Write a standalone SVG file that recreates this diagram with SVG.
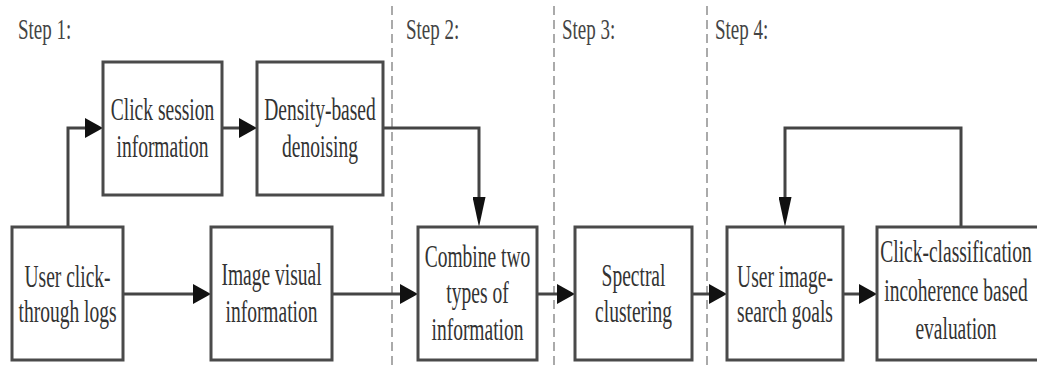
<svg xmlns="http://www.w3.org/2000/svg" width="1037" height="369" viewBox="0 0 1037 369">
<style>
.box{fill:#fff;stroke:#4a4a4a;stroke-width:3}
.t{font-family:'Liberation Serif','Times New Roman',serif;font-size:19.5px;fill:#333;text-anchor:middle}
.step{font-family:'Liberation Serif','Times New Roman',serif;font-size:19px;fill:#444}
.ln{fill:none;stroke:#444;stroke-width:3}
.dash{fill:none;stroke:#aaa;stroke-width:2;stroke-dasharray:9 5}
</style>
<defs>
<marker id="ah" viewBox="0 0 18 20" refX="8" refY="10" markerWidth="18" markerHeight="20" markerUnits="userSpaceOnUse" orient="auto">
<path d="M0,0 L18,10 L0,20 z" fill="#111"/>
</marker>
<marker id="av" viewBox="0 0 30 13" refX="15" refY="6.5" markerWidth="30" markerHeight="13" markerUnits="userSpaceOnUse" orient="auto">
<path d="M0,0 L30,6.5 L0,13 z" fill="#111"/>
</marker>
</defs>
<rect width="1037" height="369" fill="#fff"/>
<g id="separators">
<line class="dash" x1="392" y1="6" x2="392" y2="369"/>
<line class="dash" x1="554" y1="6" x2="554" y2="369"/>
<line class="dash" x1="707" y1="6" x2="707" y2="369"/>
</g>
<g id="steps">
<text class="step" transform="translate(18,39) scale(1,1.55)">Step 1:</text>
<text class="step" transform="translate(406,39) scale(1,1.55)">Step 2:</text>
<text class="step" transform="translate(562,39) scale(1,1.55)">Step 3:</text>
<text class="step" transform="translate(715,39) scale(1,1.55)">Step 4:</text>
</g>
<g id="connectors">
<path class="ln" d="M68,227 V128 H93" marker-end="url(#ah)"/>
<path class="ln" d="M222,128 H247" marker-end="url(#ah)"/>
<path class="ln" d="M383,128 H479 V212" marker-end="url(#av)"/>
<path class="ln" d="M123,294 H201" marker-end="url(#ah)"/>
<path class="ln" d="M332,294 H408" marker-end="url(#ah)"/>
<path class="ln" d="M537,294 H565" marker-end="url(#ah)"/>
<path class="ln" d="M692,294 H717" marker-end="url(#ah)"/>
<path class="ln" d="M843,294 H867" marker-end="url(#ah)"/>
<path class="ln" d="M961,227 V128 H785 V212" marker-end="url(#av)"/>
</g>
<g id="n1">
<rect class="box" x="12" y="227" width="111" height="133"/>
<text class="t" transform="translate(67.5,287) scale(1,1.65)">User click-</text>
<text class="t" transform="translate(67.5,322) scale(1,1.65)">through logs</text>
</g>
<g id="n2">
<rect class="box" x="103" y="62" width="119" height="133"/>
<text class="t" transform="translate(162.5,120) scale(1,1.65)">Click session</text>
<text class="t" transform="translate(162.5,157) scale(1,1.65)">information</text>
</g>
<g id="n3">
<rect class="box" x="257" y="62" width="126" height="133"/>
<text class="t" transform="translate(320,120) scale(1,1.65)">Density-based</text>
<text class="t" transform="translate(320,157) scale(1,1.65)">denoising</text>
</g>
<g id="n4">
<rect class="box" x="211" y="227" width="121" height="133"/>
<text class="t" transform="translate(271.5,285) scale(1,1.65)">Image visual</text>
<text class="t" transform="translate(271.5,322) scale(1,1.65)">information</text>
</g>
<g id="n5">
<rect class="box" x="418" y="227" width="119" height="133"/>
<text class="t" transform="translate(477.5,267) scale(1,1.65)">Combine two</text>
<text class="t" transform="translate(477.5,303) scale(1,1.65)">types of</text>
<text class="t" transform="translate(477.5,340) scale(1,1.65)">information</text>
</g>
<g id="n6">
<rect class="box" x="575" y="227" width="117" height="133"/>
<text class="t" transform="translate(633.5,286) scale(1,1.65)">Spectral</text>
<text class="t" transform="translate(633.5,322) scale(1,1.65)">clustering</text>
</g>
<g id="n7">
<rect class="box" x="727" y="227" width="116" height="133"/>
<text class="t" transform="translate(785,287) scale(1,1.65)">User image-</text>
<text class="t" transform="translate(785,322) scale(1,1.65)">search goals</text>
</g>
<g id="n8">
<rect class="box" x="877" y="227" width="163" height="133"/>
<text class="t" transform="translate(956,262) scale(1,1.65)">Click-classification</text>
<text class="t" transform="translate(956,301) scale(1,1.65)">incoherence based</text>
<text class="t" transform="translate(956,339) scale(1,1.65)">evaluation</text>
</g>
</svg>
